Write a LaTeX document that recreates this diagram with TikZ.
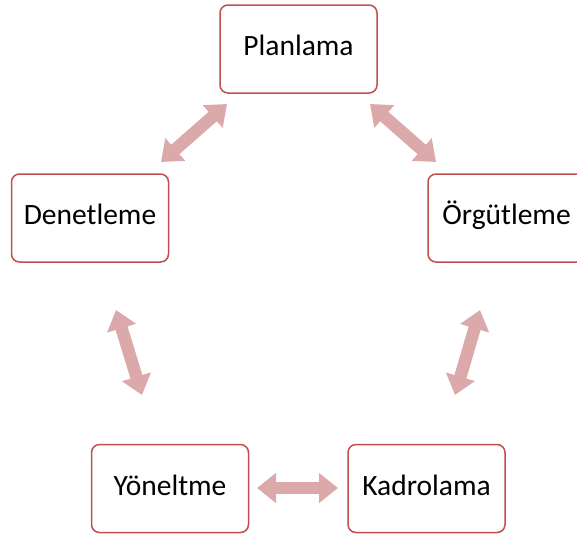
\documentclass[tikz,border=0pt]{standalone}
\usepackage{fontspec}
\setmainfont{Carlito}
\usetikzlibrary{arrows.meta}
\definecolor{boxred}{HTML}{C0504D}
\definecolor{arrowpink}{HTML}{DCA9AA}
\begin{document}
\begin{tikzpicture}[x=1pt,y=-1pt,
  stagebox/.style={draw=boxred, line width=1.5pt, rounded corners=8pt, fill=white,
    minimum width=157pt, minimum height=88pt, inner sep=0pt,
    text height=17pt, text depth=4pt, font=\fontsize{29.5}{35}\selectfont, text=black},
  link/.style={draw=arrowpink, line width=12.5pt,
    {Triangle[length=19pt,width=29pt]}-{Triangle[length=19pt,width=29pt]}}]
\useasboundingbox (0,0) rectangle (577,536);
\clip (0,0) rectangle (577,536);
\node[stagebox] (plan) at (298.5,49) {Planlama};
\node[stagebox] (den) at (90,218) {Denetleme};
\node[stagebox] (org) at (506.5,218) {Örgütleme};
\node[stagebox] (yon) at (170,488.5) {Yöneltme};
\node[stagebox] (kad) at (426.5,488.5) {Kadrolama};
\coordinate (pd1) at (227,104);
\coordinate (pd2) at (161,162);
\coordinate (po1) at (370,104);
\coordinate (po2) at (436,162);
\coordinate (ok1) at (480,310);
\coordinate (ok2) at (455,395);
\coordinate (dy1) at (116,310);
\coordinate (dy2) at (142,395);
\coordinate (yk1) at (257,488);
\coordinate (yk2) at (338,488);
\draw[link] (pd1) -- (pd2);
\draw[link] (po1) -- (po2);
\draw[link] (ok1) -- (ok2);
\draw[link] (dy1) -- (dy2);
\draw[link] (yk1) -- (yk2);
\end{tikzpicture}
\end{document}
